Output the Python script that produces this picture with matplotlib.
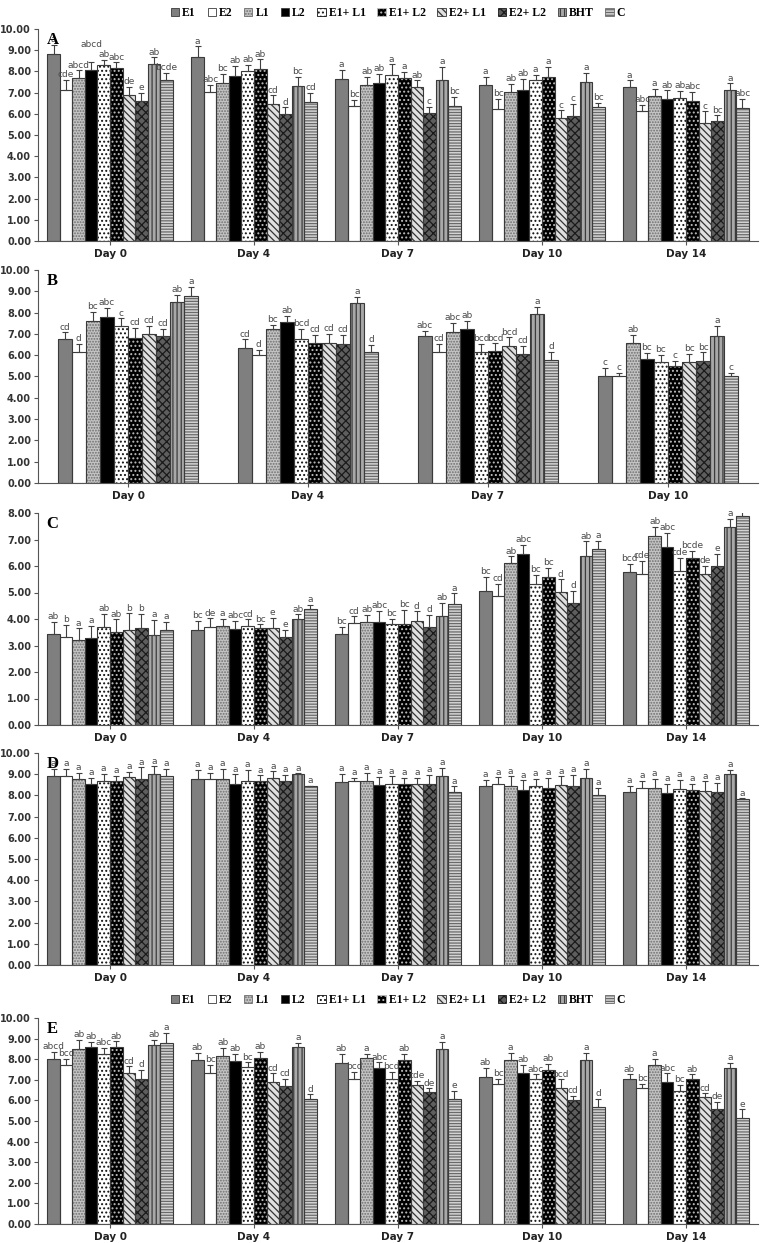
import matplotlib
matplotlib.use("Agg")
import matplotlib.pyplot as plt
from matplotlib.patches import Patch
import numpy as np

treatments = ["E1", "E2", "L1", "L2", "E1+ L1", "E1+ L2", "E2+ L1", "E2+ L2", "BHT", "C"]
days5 = ["Day 0", "Day 4", "Day 7", "Day 10", "Day 14"]
days4 = ["Day 0", "Day 4", "Day 7", "Day 10"]

# ---------------- Panel A ----------------
A_vals = [[8.80, 7.11, 7.70, 8.05, 8.28, 8.17, 6.89, 6.61, 8.36, 7.58],
          [8.68, 7.02, 7.45, 7.80, 8.02, 8.12, 6.47, 6.00, 7.33, 6.57],
          [7.62, 6.37, 7.36, 7.47, 7.83, 7.70, 7.27, 6.03, 7.59, 6.37],
          [7.36, 6.22, 7.03, 7.14, 7.61, 7.72, 5.80, 5.91, 7.52, 6.30],
          [7.27, 6.14, 6.84, 6.72, 6.73, 6.61, 5.58, 5.67, 7.13, 6.27]]
A_err = [[0.45, 0.50, 0.35, 0.40, 0.28, 0.25, 0.37, 0.39, 0.31, 0.36],
         [0.50, 0.35, 0.45, 0.45, 0.28, 0.45, 0.40, 0.30, 0.42, 0.42],
         [0.44, 0.28, 0.37, 0.43, 0.50, 0.28, 0.31, 0.30, 0.61, 0.44],
         [0.39, 0.47, 0.39, 0.52, 0.22, 0.48, 0.37, 0.57, 0.40, 0.23],
         [0.31, 0.27, 0.35, 0.39, 0.35, 0.42, 0.53, 0.25, 0.31, 0.42]]
A_let = [["a", "cde", "abcd", "abcd", "ab", "abc", "de", "e", "ab", "bcde"],
         ["a", "abc", "bc", "ab", "ab", "ab", "cd", "d", "bc", "cd"],
         ["a", "bc", "ab", "ab", "a", "a", "ab", "c", "a", "bc"],
         ["a", "bc", "ab", "ab", "a", "a", "c", "c", "a", "bc"],
         ["a", "abc", "a", "ab", "ab", "abc", "c", "bc", "a", "abc"]]

# ---------------- Panel B ----------------
B_vals = [[6.77, 6.17, 7.61, 7.81, 7.36, 6.80, 7.00, 6.91, 8.52, 8.80],
          [6.33, 6.02, 7.22, 7.58, 6.77, 6.56, 6.56, 6.52, 8.44, 6.13],
          [6.88, 6.13, 7.11, 7.22, 6.17, 6.22, 6.45, 6.06, 7.92, 5.78],
          [5.00, 5.00, 6.56, 5.81, 5.66, 5.47, 5.70, 5.73, 6.88, 5.00]]
B_err = [[0.31, 0.35, 0.44, 0.42, 0.37, 0.47, 0.38, 0.33, 0.31, 0.42],
         [0.42, 0.23, 0.20, 0.26, 0.46, 0.39, 0.44, 0.43, 0.31, 0.35],
         [0.26, 0.39, 0.42, 0.39, 0.35, 0.34, 0.39, 0.39, 0.36, 0.39],
         [0.39, 0.16, 0.39, 0.31, 0.36, 0.26, 0.35, 0.41, 0.50, 0.16]]
B_let = [["cd", "d", "bc", "abc", "c", "cd", "cd", "cd", "ab", "a"],
         ["cd", "d", "bc", "ab", "bcd", "cd", "cd", "cd", "a", "d"],
         ["abc", "cd", "abc", "ab", "bcd", "bcd", "bcd", "cd", "a", "d"],
         ["c", "c", "ab", "bc", "bc", "c", "bc", "bc", "a", "c"]]

# ---------------- Panel C ----------------
C_vals = [[3.42, 3.33, 3.21, 3.30, 3.69, 3.50, 3.58, 3.67, 3.40, 3.58],
          [3.58, 3.69, 3.75, 3.61, 3.74, 3.65, 3.67, 3.33, 4.00, 4.36],
          [3.45, 3.85, 3.90, 3.90, 3.80, 3.80, 3.92, 3.70, 4.12, 4.55],
          [5.06, 4.87, 6.13, 6.45, 5.31, 5.58, 5.01, 4.60, 6.39, 6.64],
          [5.77, 5.69, 7.12, 6.71, 5.82, 6.30, 5.69, 6.01, 7.46, 7.87]]
C_err = [[0.48, 0.44, 0.44, 0.44, 0.50, 0.49, 0.63, 0.52, 0.56, 0.32],
         [0.34, 0.34, 0.25, 0.33, 0.25, 0.15, 0.38, 0.25, 0.18, 0.17],
         [0.25, 0.25, 0.25, 0.40, 0.20, 0.55, 0.37, 0.45, 0.50, 0.42],
         [0.52, 0.46, 0.23, 0.35, 0.36, 0.34, 0.49, 0.46, 0.54, 0.32],
         [0.31, 0.51, 0.37, 0.53, 0.48, 0.27, 0.32, 0.44, 0.31, 0.25]]
C_let = [["ab", "b", "a", "a", "ab", "ab", "b", "b", "a", "a"],
         ["bc", "de", "a", "abc", "cd", "bc", "e", "e", "ab", "a"],
         ["bc", "cd", "ab", "abc", "bc", "bc", "d", "d", "ab", "a"],
         ["bc", "cd", "ab", "abc", "bc", "bc", "d", "d", "ab", "a"],
         ["bcd", "cde", "ab", "abc", "cde", "bcde", "de", "e", "a", "a"]]

# ---------------- Panel D ----------------
D_vals = [[8.90, 8.90, 8.79, 8.55, 8.69, 8.66, 8.85, 8.79, 9.01, 8.90],
          [8.79, 8.79, 8.79, 8.55, 8.66, 8.66, 8.82, 8.66, 9.01, 8.43],
          [8.63, 8.66, 8.66, 8.47, 8.55, 8.55, 8.55, 8.55, 8.93, 8.16],
          [8.46, 8.55, 8.46, 8.27, 8.43, 8.35, 8.50, 8.46, 8.82, 8.03],
          [8.16, 8.35, 8.35, 8.11, 8.31, 8.24, 8.19, 8.16, 9.02, 7.83]]
D_err = [[0.34, 0.36, 0.27, 0.27, 0.33, 0.27, 0.25, 0.53, 0.36, 0.34],
         [0.42, 0.27, 0.47, 0.45, 0.55, 0.28, 0.31, 0.32, 0.03, 0.03],
         [0.39, 0.16, 0.40, 0.40, 0.35, 0.27, 0.27, 0.43, 0.36, 0.27],
         [0.28, 0.30, 0.44, 0.44, 0.34, 0.47, 0.40, 0.52, 0.44, 0.32],
         [0.30, 0.34, 0.44, 0.43, 0.43, 0.30, 0.47, 0.42, 0.19, 0.03]]
D_let = [["a"] * 10 for _ in range(5)]

# ---------------- Panel E ----------------
E_vals = [[8.03, 7.71, 8.48, 8.60, 8.27, 8.60, 7.35, 7.03, 8.71, 8.81],
          [7.95, 7.35, 8.16, 7.90, 7.60, 8.06, 6.90, 6.69, 8.60, 6.05],
          [7.82, 7.03, 8.06, 7.55, 7.02, 7.95, 6.74, 6.39, 8.48, 6.05],
          [7.15, 6.82, 7.95, 7.35, 7.02, 7.50, 6.61, 6.02, 7.95, 5.69],
          [7.02, 6.58, 7.74, 6.90, 6.47, 7.02, 6.15, 5.58, 7.58, 5.16]]
E_err = [[0.32, 0.32, 0.47, 0.24, 0.28, 0.27, 0.31, 0.47, 0.24, 0.46],
         [0.37, 0.39, 0.39, 0.37, 0.24, 0.29, 0.41, 0.37, 0.19, 0.24],
         [0.45, 0.36, 0.21, 0.29, 0.37, 0.32, 0.20, 0.19, 0.36, 0.40],
         [0.43, 0.24, 0.37, 0.39, 0.25, 0.29, 0.41, 0.21, 0.37, 0.37],
         [0.25, 0.24, 0.29, 0.41, 0.27, 0.24, 0.19, 0.36, 0.24, 0.40]]
E_let = [["abcd", "bcd", "ab", "ab", "abc", "ab", "cd", "d", "ab", "a"],
         ["ab", "bc", "ab", "ab", "bc", "ab", "cd", "cd", "a", "d"],
         ["ab", "bcd", "a", "abc", "bcd", "ab", "cde", "de", "a", "e"],
         ["ab", "bc", "a", "ab", "abc", "ab", "bcd", "cd", "a", "d"],
         ["ab", "bc", "a", "abc", "bc", "ab", "cd", "de", "a", "e"]]

# ---------------- styles ----------------
styles = [
    dict(fc="#7f7f7f", hatch=None, hc=None),
    dict(fc="#ffffff", hatch=None, hc=None),
    dict(fc="#c4c4c4", hatch="......", hc="#6e6e6e"),
    dict(fc="#000000", hatch=None, hc=None),
    dict(fc="#ffffff", hatch="....", hc="#111111"),
    dict(fc="#000000", hatch="....", hc="#bdbdbd"),
    dict(fc="#e0e0e0", hatch="\\\\\\\\\\", hc="#333333"),
    dict(fc="#5e5e5e", hatch="xxxx", hc="#1a1a1a"),
    dict(fc="#a8a8a8", hatch="||||", hc="#3c3c3c"),
    dict(fc="#d4d4d4", hatch="------", hc="#6a6a6a"),
]
EDGE = "#3a3a3a"
plt.rcParams["hatch.linewidth"] = 0.9

# label nudges (points) to avoid overlapping letters, as in the reference
nudge = {("A", 0, 3): 9}

W, H = 763, 1243
fig = plt.figure(figsize=(W / 100, H / 100), dpi=100)

def ax_rect(top_px, bot_px):
    return [38 / W, 1 - bot_px / H, 720 / W, (bot_px - top_px) / H]

panels = [
    ("A", A_vals, A_err, A_let, days5, 10, (29, 241), 0.087),
    ("B", B_vals, B_err, B_let, days4, 10, (270, 483), 0.078),
    ("C", C_vals, C_err, C_let, days5, 8, (513, 725), 0.087),
    ("D", D_vals, D_err, D_let, days5, 10, (753, 965), 0.087),
    ("E", E_vals, E_err, E_let, days5, 10, (1018, 1224), 0.087),
]

for name, vals, errs, lets, days, ymax, (tp, bp), bw in panels:
    ax = fig.add_axes(ax_rect(tp, bp))
    vals = np.array(vals)
    errs = np.array(errs)
    x = np.arange(len(days))
    for i, st in enumerate(styles):
        xi = x + (i - 4.5) * bw
        ax.bar(xi, vals[:, i], width=bw, color=st["fc"],
               edgecolor=st["hc"] if st["hatch"] else st["fc"],
               hatch=st["hatch"], linewidth=0, zorder=2)
        ax.bar(xi, vals[:, i], width=bw, fill=False, edgecolor=EDGE,
               linewidth=0.8, zorder=3)
        ax.errorbar(xi, vals[:, i], yerr=[np.zeros(len(days)), errs[:, i]],
                    fmt="none", ecolor="#404040", elinewidth=0.8,
                    capsize=2.5, capthick=0.8, zorder=4)
        for j in range(len(days)):
            dy = 0.5 + nudge.get((name, j, i), 0)
            ax.annotate(lets[j][i], (xi[j], vals[j, i] + errs[j, i]),
                        xytext=(0, dy), textcoords="offset points",
                        ha="center", va="bottom", fontsize=6.5,
                        color="#4a4a4a", family="DejaVu Sans")
    ax.set_xlim(-0.5, len(days) - 0.5)
    ax.set_ylim(0, ymax)
    ax.set_yticks(np.arange(0, ymax + 0.5, 1.0))
    ax.set_yticklabels([f"{v:.2f}" for v in np.arange(0, ymax + 0.5, 1.0)],
                       fontsize=7, fontweight="bold", color="#333333")
    ax.set_xticks(x)
    ax.set_xticklabels(days, fontsize=7.5, fontweight="bold", color="#222222")
    ax.tick_params(axis="y", length=3, width=0.8, color="#555555", pad=2)
    ax.tick_params(axis="x", length=3, width=0.8, color="#555555", pad=3)
    for s in ["top", "right"]:
        ax.spines[s].set_visible(False)
    ax.spines["left"].set_color("#555555")
    ax.spines["bottom"].set_color("#555555")
    ax.patch.set_alpha(0)
    ax.text(0.012, 0.985, name, transform=ax.transAxes, ha="left", va="top",
            fontsize=12, fontweight="bold", family="Liberation Serif")

# legends
handles = []
for st, t in zip(styles, treatments):
    handles.append(Patch(facecolor=st["fc"],
                         edgecolor=st["hc"] if st["hatch"] else EDGE,
                         hatch=st["hatch"], linewidth=0.6, label=t))
for ycen in [13, 1000]:
    fig.legend(handles=handles, loc="center", bbox_to_anchor=(398 / W, 1 - ycen / H),
               ncol=10, frameon=False, handlelength=0.7, handleheight=0.7,
               handletextpad=0.25, columnspacing=1.0, borderaxespad=0,
               prop=dict(family="Liberation Serif", weight="bold", size=8.5))

fig.savefig("out.png", dpi=100)
